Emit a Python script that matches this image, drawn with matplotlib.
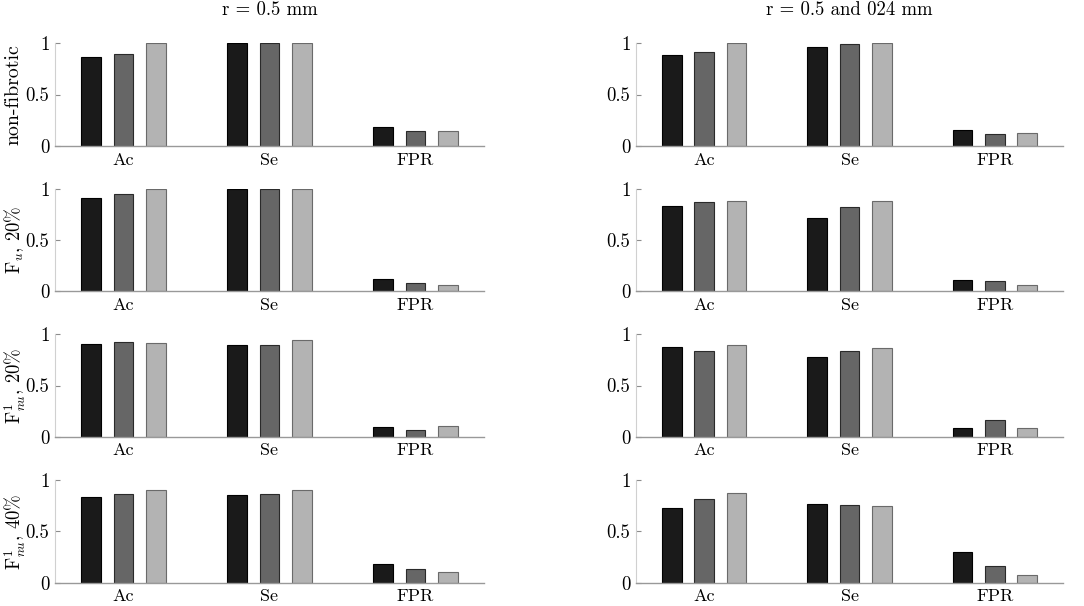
import numpy as np
import matplotlib
matplotlib.use("Agg")
import matplotlib.pyplot as plt

plt.rcParams['font.family'] = ['cmr10', 'DejaVu Serif']
plt.rcParams['mathtext.fontset'] = 'cm'
plt.rcParams['axes.unicode_minus'] = False
plt.rcParams['axes.formatter.use_mathtext'] = True

categories = ["Ac", "Se", "FPR"]
col_titles = ["r = 0.5 mm", "r = 0.5 and 024 mm"]
row_labels = ["non-fibrotic", r"F$_{u}$, 20%", r"F$^{1}_{nu}$, 20%", r"F$^{1}_{nu}$, 40%"]
ytick_vals = [0, 0.5, 1]
ytick_labels = ["0", "0.5", "1"]

# values[column][row] -> three series (dark, mid, light), each over categories Ac, Se, FPR
series_dark_left = [[0.867, 1.0, 0.184], [0.912, 1.0, 0.120], [0.902, 0.893, 0.094], [0.838, 0.857, 0.179]]
series_mid_left = [[0.896, 1.0, 0.149], [0.945, 1.0, 0.078], [0.922, 0.893, 0.065], [0.867, 0.867, 0.136]]
series_light_left = [[1.0, 1.0, 0.149], [1.0, 1.0, 0.062], [0.912, 0.945, 0.107], [0.906, 0.899, 0.100]]

series_dark_right = [[0.886, 0.964, 0.152], [0.834, 0.717, 0.104], [0.873, 0.782, 0.088], [0.727, 0.769, 0.302]]
series_mid_right = [[0.916, 0.990, 0.113], [0.873, 0.824, 0.101], [0.840, 0.840, 0.163], [0.818, 0.760, 0.162]]
series_light_right = [[1.0, 1.0, 0.123], [0.883, 0.883, 0.059], [0.899, 0.863, 0.088], [0.877, 0.747, 0.071]]

data = [
    [series_dark_left, series_mid_left, series_light_left],
    [series_dark_right, series_mid_right, series_light_right],
]

face_colors = ["#1a1a1a", "#666666", "#b3b3b3"]
edge_colors = ["#000000", "#2a2a2a", "#6a6a6a"]

W, H = 1084, 606
fig = plt.figure(figsize=(W / 100, H / 100), dpi=100)

col_x = [(55, 429), (636, 427)]
row_y = [(43, 146), (188.7, 291), (334.3, 436.7), (480, 582.7)]

x = np.arange(1, len(categories) + 1)
offsets = [-0.222, 0.0, 0.222]
bw = 0.135

label_axes = []
for c in range(2):
    for r in range(4):
        x0, w = col_x[c]
        ytop, ybot = row_y[r]
        ax = fig.add_axes([x0 / W, 1 - ybot / H, w / W, (ybot - ytop) / H])
        for s in range(3):
            ax.bar(x + offsets[s], data[c][s][r], width=bw, color=face_colors[s],
                   edgecolor=edge_colors[s], linewidth=0.8, zorder=2)
        ax.set_xlim(0.53, 3.47)
        ax.set_ylim(0, 1)
        ax.set_yticks(ytick_vals)
        ax.set_yticklabels(ytick_labels)
        ax.set_xticks(x)
        ax.set_xticklabels(categories)
        ax.tick_params(axis='x', length=0, pad=4.5, labelsize=13)
        ax.tick_params(axis='y', direction='in', length=3.5, width=0.8, color='#8c8c8c',
                       pad=4, labelsize=13.5)
        for side in ['top', 'right']:
            ax.spines[side].set_visible(False)
        ax.spines['bottom'].set_color('#999999')
        ax.spines['bottom'].set_linewidth(1.0)
        ax.spines['left'].set_color('#d0d0d0')
        ax.spines['left'].set_linewidth(0.8)
        ax.spines['bottom'].set_zorder(3)
        if c == 0:
            fs = 14.3 if r == 0 else 13.5
            ax.set_ylabel(row_labels[r], fontsize=fs)
            ax.yaxis.set_label_coords(-0.075, 0.5)
            label_axes.append(ax)
        if r == 0:
            ax.set_title(col_titles[c], fontsize=13.5, pad=20.5)

# align right edge of each row label at ~22 px from the left edge
fig.canvas.draw()
renderer = fig.canvas.get_renderer()
for ax in label_axes:
    lab = ax.yaxis.label
    bb = lab.get_window_extent(renderer)
    shift_px = 22 - bb.x1
    if bb.x0 + shift_px < 2:
        shift_px = 2 - bb.x0
    axw = ax.get_window_extent(renderer).width
    ax.yaxis.set_label_coords(-0.075 + shift_px / axw, 0.5)

fig.savefig("out.png", dpi=100)
